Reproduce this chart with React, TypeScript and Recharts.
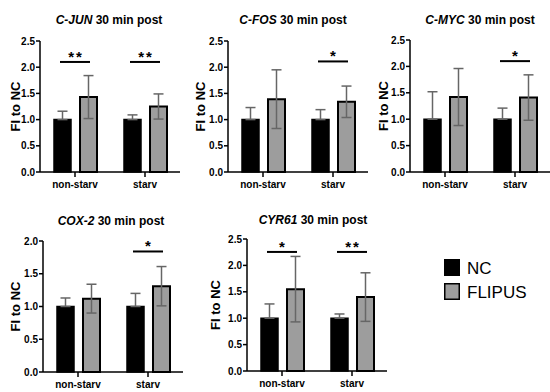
import React from "react";
import { BarChart, Bar, XAxis, YAxis, ErrorBar, ReferenceDot } from "recharts";

const FONT = "'Liberation Sans', Arial, Helvetica, sans-serif";

const categories = ["non-starv", "starv"];

// C-JUN
const cjunNC = [1.0, 1.0];
const cjunNCErr = [0.16, 0.09];
const cjunFL = [1.43, 1.25];
const cjunFLErr = [0.41, 0.24];
const cjunSig = [
  { cat: "non-starv", y: 2.1, label: "**" },
  { cat: "starv", y: 2.1, label: "**" },
];

// C-FOS
const cfosNC = [1.0, 1.0];
const cfosNCErr = [0.23, 0.19];
const cfosFL = [1.39, 1.34];
const cfosFLErr = [0.56, 0.3];
const cfosSig = [{ cat: "starv", y: 2.11, label: "*" }];

// C-MYC
const cmycNC = [1.0, 1.0];
const cmycNCErr = [0.52, 0.21];
const cmycFL = [1.42, 1.41];
const cmycFLErr = [0.54, 0.43];
const cmycSig = [{ cat: "starv", y: 2.1, label: "*" }];

// COX-2
const cox2NC = [1.0, 1.0];
const cox2NCErr = [0.13, 0.2];
const cox2FL = [1.12, 1.31];
const cox2FLErr = [0.22, 0.3];
const cox2Sig = [{ cat: "starv", y: 1.84, label: "*" }];

// CYR61
const cyr61NC = [1.0, 1.0];
const cyr61NCErr = [0.27, 0.08];
const cyr61FL = [1.55, 1.4];
const cyr61FLErr = [0.62, 0.46];
const cyr61Sig = [
  { cat: "non-starv", y: 2.255, label: "*" },
  { cat: "starv", y: 2.255, label: "**" },
];

const ticks25 = [0, 0.5, 1.0, 1.5, 2.0, 2.5];
const ticks20 = [0, 0.5, 1.0, 1.5, 2.0];

const seriesNames = ["NC", "FLIPUS"];

function buildData(nc: number[], ncErr: number[], fl: number[], flErr: number[]) {
  return categories.map((c, i) => ({
    cat: c,
    nc: nc[i],
    ncErr: [0, ncErr[i]],
    fl: fl[i],
    flErr: flErr[i],
  }));
}

type SigItem = { cat: string; y: number; label: string };

function Panel(props: {
  left: number;
  top: number;
  marginTop: number;
  data: any[];
  sig: SigItem[];
  max: number;
  ticks: number[];
  labelOffset: number;
}) {
  const { left, top, marginTop, data, sig, max, ticks, labelOffset } = props;
  return (
    <div style={{ position: "absolute", left, top }}>
      <BarChart
        width={180}
        height={200}
        data={data}
        margin={{ top: marginTop, right: 0, bottom: 0, left: 0 }}
        barSize={17}
        barGap={9}
      >
        <XAxis
          dataKey="cat"
          height={28}
          interval={0}
          tickSize={5}
          tickMargin={4}
          axisLine={{ stroke: "#000", strokeWidth: 1.5 }}
          tickLine={{ stroke: "#000", strokeWidth: 1.5 }}
          tick={{ fill: "#000", fontSize: 10, fontWeight: 700, fontFamily: FONT }}
        />
        <YAxis
          type="number"
          domain={[0, max]}
          ticks={ticks}
          width={40}
          tickSize={4}
          tickMargin={1}
          tickFormatter={(v: number) => v.toFixed(1)}
          axisLine={{ stroke: "#000", strokeWidth: 1.5 }}
          tickLine={{ stroke: "#000", strokeWidth: 1.5 }}
          tick={{ fill: "#000", fontSize: 10, fontWeight: 700, fontFamily: FONT }}
          label={{
            value: "FI to NC",
            angle: -90,
            position: "insideLeft",
            offset: labelOffset,
            style: {
              textAnchor: "middle",
              fontSize: 13,
              fontWeight: 700,
              fill: "#000",
              fontFamily: FONT,
            },
          }}
        />
        <Bar dataKey="nc" name={seriesNames[0]} fill="#000" stroke="#000" strokeWidth={1.5} isAnimationActive={false}>
          <ErrorBar dataKey="ncErr" width={5} stroke="#666" strokeWidth={1.5} isAnimationActive={false} />
        </Bar>
        <Bar dataKey="fl" name={seriesNames[1]} fill="#9d9d9d" stroke="#000" strokeWidth={2} isAnimationActive={false}>
          <ErrorBar dataKey="flErr" width={5} stroke="#666" strokeWidth={1.5} isAnimationActive={false} />
        </Bar>
        {sig.map((s, i) => (
          <ReferenceDot
            key={i}
            x={s.cat}
            y={s.y}
            r={0}
            shape={(p: any) => (
              <g>
                <line x1={p.cx - 15} x2={p.cx + 15} y1={p.cy} y2={p.cy} stroke="#000" strokeWidth={2} />
                <text
                  x={p.cx + (s.label.length > 1 ? 1 : 0)}
                  y={p.cy}
                  textAnchor="middle"
                  fontSize={15}
                  fontWeight={700}
                  letterSpacing={s.label.length > 1 ? 2 : 0}
                  fontFamily={FONT}
                  fill="#000"
                >
                  {s.label}
                </text>
              </g>
            )}
          />
        ))}
      </BarChart>
    </div>
  );
}

const titles = [
  { gene: "C-JUN", x: 109, y: 24 },
  { gene: "C-FOS", x: 293, y: 24 },
  { gene: "C-MYC", x: 480, y: 24 },
  { gene: "COX-2", x: 111, y: 225 },
  { gene: "CYR61", x: 313, y: 224 },
];

export default function App() {
  return (
    <div
      style={{
        position: "absolute",
        left: 0,
        top: 0,
        width: 550,
        height: 392,
        background: "#fff",
        overflow: "hidden",
        fontFamily: FONT,
      }}
    >
      <Panel left={0} top={0} marginTop={41} data={buildData(cjunNC, cjunNCErr, cjunFL, cjunFLErr)} sig={cjunSig} max={2.5} ticks={ticks25} labelOffset={15} />
      <Panel left={188} top={0} marginTop={41} data={buildData(cfosNC, cfosNCErr, cfosFL, cfosFLErr)} sig={cfosSig} max={2.5} ticks={ticks25} labelOffset={12} />
      <Panel left={370} top={0} marginTop={40} data={buildData(cmycNC, cmycNCErr, cmycFL, cmycFLErr)} sig={cmycSig} max={2.5} ticks={ticks25} labelOffset={13} />
      <Panel left={3} top={200} marginTop={41} data={buildData(cox2NC, cox2NCErr, cox2FL, cox2FLErr)} sig={cox2Sig} max={2.0} ticks={ticks20} labelOffset={12} />
      <Panel left={207} top={199} marginTop={40} data={buildData(cyr61NC, cyr61NCErr, cyr61FL, cyr61FLErr)} sig={cyr61Sig} max={2.5} ticks={ticks25} labelOffset={8} />
      <svg
        width={550}
        height={392}
        style={{ position: "absolute", left: 0, top: 0, pointerEvents: "none" }}
      >
        {titles.map((t) => (
          <text key={t.gene} x={t.x} y={t.y} textAnchor="middle" fontSize={12} fontWeight={700} fontFamily={FONT} fill="#000">
            <tspan fontStyle="italic">{t.gene}</tspan>
            <tspan> 30 min post</tspan>
          </text>
        ))}
        <rect x={444} y={259} width={16} height={17} fill="#000" />
        <text x={467} y={273.6} fontSize={17} fontFamily={FONT} fill="#000">
          {seriesNames[0]}
        </text>
        <rect x={444.75} y={283.75} width={14.5} height={15.5} fill="#9d9d9d" stroke="#000" strokeWidth={1.5} />
        <text x={467} y={297.6} fontSize={17} fontFamily={FONT} fill="#000">
          {seriesNames[1]}
        </text>
      </svg>
    </div>
  );
}
